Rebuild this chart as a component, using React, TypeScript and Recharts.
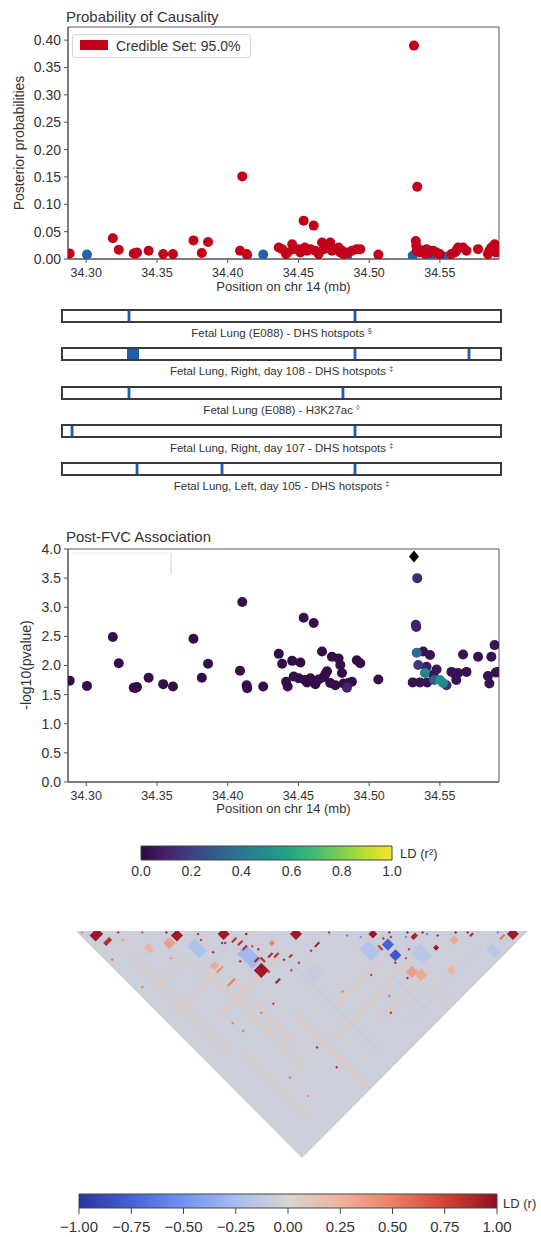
import React from "react";
import {
  Area,
  ComposedChart,
  ReferenceArea,
  ReferenceLine,
  Scatter,
  ScatterChart,
  XAxis,
  YAxis,
} from "recharts";

const FONT = '"Liberation Sans", Arial, sans-serif';
const INK = "#333333";
const SPINE = "#555555";
const CS_RED = "#c3001b";
const OUT_BLUE = "#2163a8";
const TRACK_BLUE = "#1f5ea8";

// SNPs: position (mb), posterior probability, -log10(p), LD r² with lead, in 95% credible set
const snpPos = [
  34.2883, 34.3005, 34.3188, 34.323, 34.3336, 34.3345, 34.3352, 34.3359, 34.3441, 34.3544,
  34.3613, 34.3758, 34.3817, 34.3861, 34.4087, 34.4103, 34.4134, 34.4138, 34.4251,
  34.4361, 34.4385, 34.4413, 34.4424, 34.4456, 34.4467, 34.4502, 34.4514, 34.4537, 34.4545,
  34.4561, 34.4585, 34.4608, 34.462, 34.4643, 34.4667, 34.4678, 34.469, 34.4702, 34.4725,
  34.4737, 34.4761, 34.4784, 34.4796, 34.4808, 34.4819, 34.4843, 34.4854, 34.4878, 34.4913,
  34.4937, 34.5065,
  34.5308, 34.5317, 34.533, 34.5333, 34.5336, 34.534, 34.5347, 34.5359, 34.5382, 34.5394,
  34.5406, 34.541, 34.543, 34.5453, 34.546, 34.5477, 34.55, 34.5523, 34.5547, 34.5582,
  34.5606, 34.5616, 34.5629, 34.5664, 34.5688, 34.577, 34.584, 34.585, 34.5864, 34.5887,
  34.5895, 34.5911,
];
const snpPP = [
  0.01, 0.008, 0.038, 0.017, 0.01, 0.01, 0.01, 0.012, 0.015, 0.009,
  0.009, 0.034, 0.011, 0.031, 0.015, 0.151, 0.009, 0.007, 0.008,
  0.021, 0.018, 0.009, 0.012, 0.027, 0.018, 0.018, 0.012, 0.07, 0.021,
  0.015, 0.018, 0.061, 0.015, 0.009, 0.03, 0.018, 0.021, 0.021, 0.03,
  0.015, 0.018, 0.021, 0.012, 0.015, 0.009, 0.003, 0.012, 0.015, 0.018,
  0.018, 0.008,
  0.006, 0.39, 0.033, 0.024, 0.015, 0.132, 0.018, 0.012, 0.015, 0.01,
  0.018, 0.003, 0.012, 0.015, 0.004, 0.012, 0.009, 0.004, 0.004, 0.009,
  0.012, 0.015, 0.021, 0.021, 0.015, 0.018, 0.009, 0.015, 0.021, 0.027,
  0.012, 0.015,
];
const snpLogP = [
  1.74, 1.65, 2.49, 2.04, 1.62, 1.62, 1.62, 1.63, 1.79, 1.68,
  1.64, 2.46, 1.79, 2.03, 1.91, 3.09, 1.66, 1.61, 1.64,
  2.2, 2.03, 1.72, 1.64, 2.08, 1.81, 1.78, 2.05, 2.82, 1.75,
  1.71, 1.78, 2.73, 1.68, 1.76, 2.24, 1.8, 1.85, 1.9, 1.7,
  2.15, 1.66, 2.12, 2.01, 1.87, 1.69, 1.62, 1.7, 1.72, 2.09,
  2.04, 1.76,
  1.71, 3.87, 2.7, 2.66, 2.22, 3.5, 2.01, 1.71, 2.24, 1.87,
  1.98, 1.71, 2.18, 1.84, 1.75, 1.93, 1.75, 1.7, 1.66, 1.89,
  1.86, 1.75, 1.87, 2.19, 1.89, 2.15, 1.82, 1.69, 2.15, 2.35,
  1.88, 1.89,
];
const snpLD = [
  0.02, 0.02, 0.03, 0.02, 0.02, 0.02, 0.02, 0.02, 0.02, 0.02,
  0.02, 0.02, 0.02, 0.02, 0.02, 0.03, 0.02, 0.02, 0.02,
  0.02, 0.02, 0.02, 0.02, 0.02, 0.02, 0.02, 0.02, 0.03, 0.02,
  0.02, 0.02, 0.03, 0.02, 0.02, 0.02, 0.02, 0.02, 0.02, 0.02,
  0.02, 0.02, 0.02, 0.02, 0.02, 0.02, 0.1, 0.02, 0.02, 0.02,
  0.02, 0.02,
  0.03, 1.0, 0.1, 0.1, 0.35, 0.12, 0.18, 0.04, 0.04, 0.45,
  0.08, 0.04, 0.04, 0.05, 0.3, 0.05, 0.5, 0.45, 0.15, 0.04,
  0.04, 0.04, 0.04, 0.04, 0.04, 0.04, 0.04, 0.04, 0.04, 0.04,
  0.04, 0.04,
];
const snpInSet = [
  1, 0, 1, 1, 1, 1, 1, 1, 1, 1,
  1, 1, 1, 1, 1, 1, 1, 0, 0,
  1, 1, 1, 1, 1, 1, 1, 1, 1, 1,
  1, 1, 1, 1, 1, 1, 1, 1, 1, 1,
  1, 1, 1, 1, 1, 1, 0, 1, 1, 1,
  1, 1,
  0, 1, 1, 1, 1, 1, 1, 1, 1, 1,
  1, 0, 1, 1, 0, 1, 1, 0, 0, 1,
  1, 1, 1, 1, 1, 1, 1, 1, 1, 1,
  1, 1,
];
const LEAD = 52;

const X_DOMAIN: [number, number] = [34.2871, 34.5918];
const xTicks = [34.3, 34.35, 34.4, 34.45, 34.5, 34.55];
const ppTicks = [0, 0.05, 0.1, 0.15, 0.2, 0.25, 0.3, 0.35, 0.4];
const logPTicks = [0, 0.5, 1, 1.5, 2, 2.5, 3, 3.5, 4];
const r2Ticks = [0, 0.2, 0.4, 0.6, 0.8, 1];
const rTicks = [-1, -0.75, -0.5, -0.25, 0, 0.25, 0.5, 0.75, 1];

// annotation tracks (marked intervals in mb)
const TRACK_DOMAIN: [number, number] = [34.28, 34.59];
const trackNames = [
  "Fetal Lung (E088) - DHS hotspots",
  "Fetal Lung, Right, day 108 - DHS hotspots",
  "Fetal Lung (E088) - H3K27ac",
  "Fetal Lung, Right, day 107 - DHS hotspots",
  "Fetal Lung, Left, day 105 - DHS hotspots",
];
const trackSymbols = ["§", "‡", "◊", "‡", "‡"];
const trackMarks: [number, number][][] = [
  [[34.3263, 34.3283], [34.4859, 34.4879]],
  [[34.3259, 34.3344], [34.4859, 34.4879], [34.5664, 34.5684]],
  [[34.3263, 34.3283], [34.4774, 34.4794]],
  [[34.2861, 34.2881], [34.4859, 34.4879]],
  [[34.332, 34.334], [34.392, 34.394], [34.4859, 34.4879]],
];
const trackTops = [310, 348, 387, 425, 463];

// LD (r) matrix: notable cells as [i, j, cells along i, cells along j, r]
const LD_N = 150;
const ldCells: [number, number, number, number, number][] = [
  // faint background structure
  [10, 25, 1, 65, 0.1], [30, 50, 1, 70, 0.1], [60, 80, 1, 60, -0.1], [45, 100, 1, 50, 0.12],
  [20, 75, 40, 1, 0.1], [50, 120, 60, 1, 0.1], [80, 140, 50, 1, -0.08], [5, 60, 30, 1, 0.12],
  [15, 95, 1, 45, 0.09], [70, 130, 35, 1, 0.1], [35, 70, 1, 40, 0.1], [90, 120, 1, 25, -0.1],
  [60, 110, 30, 1, 0.09], [8, 45, 20, 1, 0.1], [100, 135, 1, 14, 0.1], [25, 55, 20, 1, -0.08],
  [32, 42, 5, 8, -0.2], [46, 61, 6, 10, -0.28], [88, 100, 6, 8, -0.18], [104, 118, 6, 8, -0.15],
  [130, 142, 4, 6, -0.15], [62, 90, 6, 6, -0.1],
  [25, 33, 4, 4, 0.35], [96, 123, 4, 4, 0.35], [98, 127, 4, 4, 0.3], [121, 127, 3, 3, 0.3],
  [17, 28, 3, 4, 0.25], [33, 56, 3, 3, 0.3], [110, 136, 3, 3, 0.25],
  // strong LD
  [1, 2, 1, 1, 0.45], [3, 6, 5, 4, 0.95], [5, 13, 4, 2, 0.85], [2, 21, 1, 1, 0.55],
  [13, 14, 1, 1, 0.8], [12, 18, 1, 1, 0.4], [21, 22, 1, 1, 0.6], [29, 30, 1, 1, 0.9],
  [30, 33, 4, 4, 0.95], [39, 41, 1, 1, 0.85], [38, 44, 1, 1, 0.8], [46, 48, 4, 4, 0.95],
  [38, 52, 1, 1, 0.85], [44, 52, 1, 1, 0.85], [45, 53, 1, 1, 0.85], [48, 55, 3, 1, 0.85],
  [49, 58, 3, 1, 0.85], [49, 61, 3, 1, 0.85], [55, 57, 1, 1, 0.95], [53, 63, 1, 1, 0.8],
  [46, 72, 5, 5, 0.95], [49, 69, 3, 1, 0.85], [52, 70, 1, 3, 0.85], [60, 68, 2, 2, 0.5],
  [55, 72, 3, 1, 0.85], [57, 74, 3, 1, 0.85], [49, 83, 3, 1, 0.9], [58, 84, 1, 1, 0.8],
  [63, 84, 1, 1, 0.8], [70, 72, 4, 4, 0.95], [74, 84, 3, 1, 0.9], [71, 84, 1, 1, 0.85],
  [83, 84, 1, 1, 0.8], [88, 91, 1, 1, -0.6], [96, 98, 3, 3, 0.95], [103, 104, 1, 1, 0.9],
  [109, 110, 1, 1, 0.9], [109, 113, 3, 2, 0.9], [114, 115, 1, 1, 0.9], [115, 117, 1, 1, -0.6],
  [97, 106, 4, 4, -0.75], [96, 112, 4, 4, -0.8], [99, 104, 1, 1, 0.85], [95, 105, 1, 3, 0.8],
  [104, 116, 1, 1, 0.8], [100, 118, 1, 1, 0.7], [113, 124, 2, 2, 0.95], [94, 125, 1, 1, 0.85],
  [95, 116, 1, 1, 0.85], [125, 126, 1, 1, 0.9], [129, 130, 1, 1, 0.85], [129, 132, 2, 1, 0.9],
  [142, 144, 4, 4, 0.95], [138, 143, 3, 1, 0.55], [139, 140, 1, 1, -0.5], [83, 112, 1, 1, 0.8],
  [77, 131, 1, 1, 0.85], [82, 125, 1, 1, 0.55], [41, 118, 1, 1, 0.85], [41, 131, 1, 1, 0.85],
  [22, 119, 1, 1, 0.55], [22, 131, 1, 1, 0.45], [32, 68, 5, 1, 0.5], [33, 60, 4, 1, 0.45],
  [41, 89, 1, 1, 0.8], [3, 40, 1, 1, 0.5], [68, 108, 1, 1, 0.5], [34, 88, 1, 1, 0.5],
  [21, 82, 1, 1, 0.5], [22, 88, 1, 1, 0.5], [22, 40, 1, 1, 0.45], [44, 64, 1, 1, 0.85],
  [50, 77, 1, 1, 0.8], [59, 78, 1, 1, 0.85], [62, 79, 2, 1, 0.85], [54, 66, 1, 1, 0.85],
  [102, 106, 1, 1, 0.85], [107, 111, 1, 1, -0.55], [118, 121, 1, 1, 0.85], [92, 96, 1, 1, -0.5],
];

// colour maps
const viridisStops: [number, string][] = [
  [0, "#2f0a40"], [0.1, "#46206f"], [0.2, "#3f3f86"], [0.3, "#345c8c"], [0.4, "#29778e"],
  [0.5, "#20908c"], [0.6, "#23a883"], [0.7, "#45bf6f"], [0.8, "#7bd151"], [0.9, "#bde02a"],
  [1, "#f5e52a"],
];
const coolwarmStops: [number, string][] = [
  [-1, "#27359f"], [-0.75, "#4661d8"], [-0.5, "#7093f2"], [-0.25, "#a5bdf0"], [0, "#d8d5d2"],
  [0.25, "#eeb49c"], [0.5, "#eb8063"], [0.75, "#d04436"], [1, "#930d24"],
];

function hexRgb(h: string) {
  const n = parseInt(h.slice(1), 16);
  return [(n >> 16) & 255, (n >> 8) & 255, n & 255];
}

function mapColor(stops: [number, string][], t: number) {
  if (t <= stops[0][0]) return stops[0][1];
  for (let k = 1; k < stops.length; k++) {
    const [t1, c1] = stops[k];
    const [t0, c0] = stops[k - 1];
    if (t <= t1) {
      const f = (t - t0) / (t1 - t0);
      const a = hexRgb(c0);
      const b = hexRgb(c1);
      const m = a.map((v, q) => Math.round(v + (b[q] - v) * f));
      return `rgb(${m[0]},${m[1]},${m[2]})`;
    }
  }
  return stops[stops.length - 1][1];
}

const xTickStyle = { fill: INK, fontSize: 12.5, fontFamily: FONT };
const yTickStyle = { fill: INK, fontSize: 14, fontFamily: FONT };
const fmt2 = (v: number) => v.toFixed(2);
const fmt1 = (v: number) => v.toFixed(1);
const fmtR = (v: number) => (v < 0 ? "\u2212" + Math.abs(v).toFixed(2) : v.toFixed(2));

const textAt = (left: number, cy: number, size: number, extra: React.CSSProperties = {}) => ({
  position: "absolute" as const,
  left,
  top: cy - size / 2,
  fontSize: size,
  lineHeight: `${size}px`,
  color: INK,
  whiteSpace: "nowrap" as const,
  ...extra,
});

function ProbabilityPlot() {
  const pts = snpPos.map((x, k) => ({ x, y: snpPP[k], cs: snpInSet[k] }));
  const inSet = pts.filter((p) => p.cs);
  const outSet = pts.filter((p) => !p.cs);
  const dot = (fill: string) => (props: any) => (
    <circle cx={props.cx} cy={props.cy} r={5} fill={fill} />
  );
  return (
    <ScatterChart width={541} height={300} margin={{ top: 27, right: 42, bottom: 0, left: 0 }}>
      <XAxis
        type="number"
        dataKey="x"
        domain={X_DOMAIN}
        ticks={xTicks}
        tickFormatter={fmt2}
        allowDataOverflow
        height={41}
        stroke={SPINE}
        tick={xTickStyle}
        tickSize={4}
        tickMargin={5}
      />
      <YAxis
        type="number"
        dataKey="y"
        domain={[0, 0.424]}
        ticks={ppTicks}
        tickFormatter={fmt2}
        allowDataOverflow
        width={68}
        stroke={SPINE}
        tick={yTickStyle}
        tickSize={4}
        tickMargin={3}
      />
      <ReferenceArea x1={X_DOMAIN[0]} x2={X_DOMAIN[1]} y1={0} y2={0.424} fill="none" stroke={SPINE} />
      <Scatter data={outSet} shape={dot(OUT_BLUE)} isAnimationActive={false} />
      <Scatter data={inSet} shape={dot(CS_RED)} isAnimationActive={false} />
    </ScatterChart>
  );
}

function AssociationPlot() {
  const pts = snpPos
    .map((x, k) => ({ x, y: snpLogP[k], ld: snpLD[k], color: mapColor(viridisStops, snpLD[k]) }))
    .filter((_, k) => k !== LEAD)
    .sort((a, b) => a.ld - b.ld);
  const lead = [{ x: snpPos[LEAD], y: snpLogP[LEAD] }];
  const dot = (props: any) => (
    <circle cx={props.cx} cy={props.cy} r={5} fill={props.payload ? props.payload.color : "#333"} />
  );
  const diamond = (props: any) => (
    <polygon
      points={`${props.cx},${props.cy - 6} ${props.cx + 5},${props.cy} ${props.cx},${props.cy + 6} ${props.cx - 5},${props.cy}`}
      fill="#000"
    />
  );
  return (
    <ScatterChart width={541} height={300} margin={{ top: 29, right: 42, bottom: 0, left: 0 }}>
      <XAxis
        type="number"
        dataKey="x"
        domain={X_DOMAIN}
        ticks={xTicks}
        tickFormatter={fmt2}
        allowDataOverflow
        height={38}
        stroke={SPINE}
        tick={xTickStyle}
        tickSize={4}
        tickMargin={5}
      />
      <YAxis
        type="number"
        dataKey="y"
        domain={[0, 4]}
        ticks={logPTicks}
        tickFormatter={fmt1}
        allowDataOverflow
        width={68}
        stroke={SPINE}
        tick={yTickStyle}
        tickSize={4}
        tickMargin={3}
      />
      <ReferenceArea x1={X_DOMAIN[0]} x2={X_DOMAIN[1]} y1={0} y2={4} fill="none" stroke={SPINE} />
      <ReferenceLine segment={[{ x: 34.2899, y: 3.93 }, { x: 34.3599, y: 3.93 }]} stroke="#ececec" />
      <ReferenceLine segment={[{ x: 34.3599, y: 3.93 }, { x: 34.3599, y: 3.56 }]} stroke="#d0d0d0" />
      <Scatter data={pts} shape={dot} isAnimationActive={false} />
      <Scatter data={lead} shape={diamond} isAnimationActive={false} />
    </ScatterChart>
  );
}

function Track({ k }: { k: number }) {
  const marks = trackMarks[k].map(([s, e]) => ({ s, e }));
  const top = trackTops[k];
  return (
    <>
      <div style={{ position: "absolute", left: 61, top: top - 1 }}>
        <ComposedChart width={441} height={14} margin={{ top: 1, right: 1, bottom: 1, left: 1 }} data={marks}>
          <XAxis type="number" dataKey="s" domain={TRACK_DOMAIN} hide allowDataOverflow />
          <YAxis type="number" domain={[0, 1]} hide allowDataOverflow />
          {marks.map((m, q) => (
            <ReferenceArea key={q} x1={m.s} x2={m.e} y1={0} y2={1} fill={TRACK_BLUE} fillOpacity={1} stroke="none" />
          ))}
          <ReferenceArea
            x1={TRACK_DOMAIN[0]}
            x2={TRACK_DOMAIN[1]}
            y1={0}
            y2={1}
            fill="none"
            stroke="#3a3a3a"
            strokeWidth={2}
          />
        </ComposedChart>
      </div>
      <div style={textAt(62, top + 20.5, 11.5, { width: 439, textAlign: "center" })}>
        {trackNames[k]} <sup style={{ fontSize: 7, verticalAlign: "4px" }}>{trackSymbols[k]}</sup>
      </div>
    </>
  );
}

function ColorBar({
  id,
  stops,
  ticks,
  format,
  left,
  top,
  width,
  domain,
  tickSize,
  tickMargin,
  fontSize,
  xHeight,
}: {
  id: string;
  stops: [number, string][];
  ticks: number[];
  format: (v: number) => string;
  left: number;
  top: number;
  width: number;
  domain: [number, number];
  tickSize: number;
  tickMargin: number;
  fontSize: number;
  xHeight: number;
}) {
  const span = domain[1] - domain[0];
  return (
    <div style={{ position: "absolute", left: left - 20, top: top - 6 }}>
      <ComposedChart width={width + 40} height={6 + 14 + xHeight} margin={{ top: 6, right: 20, bottom: 0, left: 20 }} data={ticks.map((t) => ({ t }))}>
        <defs>
          <linearGradient id={id} x1="0" y1="0" x2="1" y2="0">
            {stops.map(([t, c], q) => (
              <stop key={q} offset={(t - domain[0]) / span} stopColor={c} />
            ))}
          </linearGradient>
        </defs>
        <XAxis
          type="number"
          dataKey="t"
          domain={domain}
          ticks={ticks}
          tickFormatter={format}
          allowDataOverflow
          height={xHeight}
          axisLine={false}
          tickLine={tickSize > 0 ? { stroke: "#444" } : false}
          tickSize={tickSize}
          tickMargin={tickMargin}
          tick={{ fill: INK, fontSize, fontFamily: FONT }}
          interval={0}
        />
        <YAxis type="number" domain={[0, 1]} hide allowDataOverflow />
        <ReferenceArea
          x1={domain[0]}
          x2={domain[1]}
          y1={0}
          y2={1}
          fill={`url(#${id})`}
          fillOpacity={1}
          stroke="#444"
        />
      </ComposedChart>
    </div>
  );
}

function LDTriangle() {
  const S = 452 / LD_N;
  const outline = [
    { x: 0, y: 0 },
    { x: LD_N / 2, y: LD_N / 2 },
    { x: LD_N, y: 0 },
  ];
  const cells = ldCells.map(([i, j, ni, nj, r]) => {
    const uc = i + ni / 2;
    const vc = j + nj / 2;
    return { x: (uc + vc) / 2, y: (vc - uc) / 2, ni, nj, color: mapColor(coolwarmStops, r) };
  });
  const cellShape = (props: any) => {
    const p = props.payload;
    const { cx, cy } = props;
    const a = ((p.ni + p.nj) / 4) * S;
    const b = ((p.ni - p.nj) / 4) * S;
    const q = [
      [cx - a, cy + b],
      [cx + b, cy - a],
      [cx + a, cy - b],
      [cx - b, cy + a],
    ];
    return <polygon points={q.map((v) => v.join(",")).join(" ")} fill={p.color} />;
  };
  return (
    <ComposedChart width={452} height={227} margin={{ top: 0, right: 0, bottom: 0, left: 0 }} data={outline}>
      <XAxis type="number" dataKey="x" domain={[0, LD_N]} hide allowDataOverflow />
      <YAxis type="number" dataKey="y" domain={[0, LD_N / 2]} reversed hide allowDataOverflow />
      <Area
        type="linear"
        dataKey="y"
        baseValue={0}
        fill={mapColor(coolwarmStops, -0.06)}
        fillOpacity={1}
        stroke="none"
        isAnimationActive={false}
      />
      <Scatter data={cells} shape={cellShape} isAnimationActive={false} />
    </ComposedChart>
  );
}

export default function App() {
  return (
    <div
      style={{
        position: "absolute",
        left: 0,
        top: 0,
        width: 541,
        height: 1237,
        overflow: "hidden",
        background: "#fff",
        fontFamily: FONT,
        color: INK,
      }}
    >
      <div style={{ position: "absolute", left: 0, top: 0 }}>
        <ProbabilityPlot />
      </div>
      <div style={textAt(66, 16, 15)}>Probability of Causality</div>
      <div
        style={{
          position: "absolute",
          left: 72,
          top: 34,
          width: 177,
          height: 22,
          border: "1px solid #d4d4d4",
          borderRadius: 3,
          background: "#fff",
        }}
      >
        <div style={{ position: "absolute", left: 7, top: 5, width: 28, height: 10, background: CS_RED }} />
        <div style={textAt(43, 10.5, 14)}>Credible Set: 95.0%</div>
      </div>
      <div style={textAt(0, 286, 13, { width: 567, textAlign: "center" })}>Position on chr 14 (mb)</div>
      <div style={textAt(19, 143, 14, { transform: "translate(-50%, 0) rotate(-90deg)" })}>
        Posterior probabilities
      </div>

      {trackNames.map((_, k) => (
        <Track key={k} k={k} />
      ))}

      <div style={{ position: "absolute", left: 0, top: 520 }}>
        <AssociationPlot />
      </div>
      <div style={textAt(66, 536, 15)}>Post-FVC Association</div>
      <div style={textAt(0, 808, 13, { width: 567, textAlign: "center" })}>Position on chr 14 (mb)</div>
      <div style={textAt(26, 665, 14, { transform: "translate(-50%, 0) rotate(-90deg)" })}>-log10(pvalue)</div>

      <ColorBar
        id="viridisGrad"
        stops={viridisStops}
        ticks={r2Ticks}
        format={fmt1}
        left={141}
        top={846}
        width={251}
        domain={[0, 1]}
        tickSize={0}
        tickMargin={6}
        fontSize={14}
        xHeight={25}
      />
      <div style={textAt(400, 853, 13)}>LD (r²)</div>

      <div style={{ position: "absolute", left: 76, top: 931 }}>
        <LDTriangle />
      </div>

      <ColorBar
        id="coolwarmGrad"
        stops={coolwarmStops}
        ticks={rTicks}
        format={fmtR}
        left={79}
        top={1194}
        width={418}
        domain={[-1, 1]}
        tickSize={6}
        tickMargin={7}
        fontSize={15}
        xHeight={29}
      />
      <div style={textAt(503, 1203, 13)}>LD (r)</div>
    </div>
  );
}
